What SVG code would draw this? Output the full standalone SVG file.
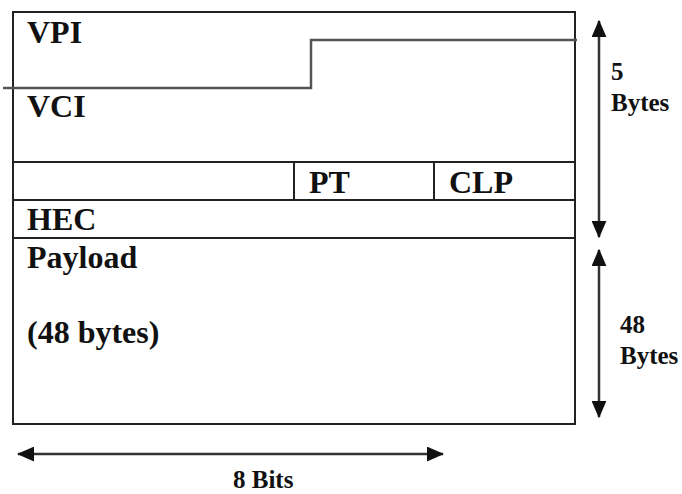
<svg xmlns="http://www.w3.org/2000/svg" width="682" height="494" viewBox="0 0 682 494">
  <style>
    .frame { fill: none; stroke: #222; stroke-width: 2; }
    .rule { stroke: #222; stroke-width: 2; fill: none; }
    .step { stroke: #555; stroke-width: 2.5; fill: none; }
    .dim { stroke: #333; stroke-width: 2.5; fill: none; }
    .lbl { font-family: "Liberation Serif", "Times New Roman", serif; font-weight: bold; font-size: 32px; fill: #111; }
    .side { font-family: "Liberation Serif", "Times New Roman", serif; font-weight: bold; font-size: 25px; fill: #111; }
  </style>
  <defs>
    <marker id="head" viewBox="0 0 14 12" refX="13" refY="6" markerWidth="7" markerHeight="6" orient="auto-start-reverse" markerUnits="strokeWidth">
      <path d="M0,0 L14,6 L0,12 z" fill="#111"/>
    </marker>
  </defs>

  <!-- cell frame and field rows -->
  <g id="cell">
    <rect class="frame" x="13" y="12" width="562" height="412"/>
    <line class="rule" x1="13" y1="162" x2="575" y2="162"/>
    <line class="rule" x1="13" y1="200" x2="575" y2="200"/>
    <line class="rule" x1="13" y1="238" x2="575" y2="238"/>
    <line class="rule" x1="294" y1="162" x2="294" y2="200"/>
    <line class="rule" x1="434" y1="162" x2="434" y2="200"/>
  </g>

  <!-- VPI / VCI boundary -->
  <g id="vpi-vci-boundary">
    <path class="step" d="M3,88 H311 V40 H577"/>
  </g>

  <g id="vpi"><text class="lbl" x="27" y="43">VPI</text></g>
  <g id="vci"><text class="lbl" x="27" y="117">VCI</text></g>
  <g id="pt"><text class="lbl" x="309" y="193">PT</text></g>
  <g id="clp"><text class="lbl" x="449" y="193">CLP</text></g>
  <g id="hec"><text class="lbl" x="27" y="230">HEC</text></g>
  <g id="payload">
    <text class="lbl" x="27" y="268">Payload</text>
    <text class="lbl" x="27" y="343">(48 bytes)</text>
  </g>

  <!-- dimension arrows -->
  <g id="connectors">
    <line class="dim" x1="599" y1="21" x2="599" y2="237" marker-start="url(#head)" marker-end="url(#head)"/>
    <line class="dim" x1="599" y1="250" x2="599" y2="417" marker-start="url(#head)" marker-end="url(#head)"/>
    <line class="dim" x1="18" y1="454" x2="443" y2="454" marker-start="url(#head)" marker-end="url(#head)"/>
  </g>

  <g id="header-size">
    <text class="side" x="611" y="80">5</text>
    <text class="side" x="611" y="111">Bytes</text>
  </g>
  <g id="payload-size">
    <text class="side" x="620" y="333">48</text>
    <text class="side" x="620" y="364">Bytes</text>
  </g>
  <g id="width-label">
    <text class="side" x="233" y="488">8 Bits</text>
  </g>
</svg>
